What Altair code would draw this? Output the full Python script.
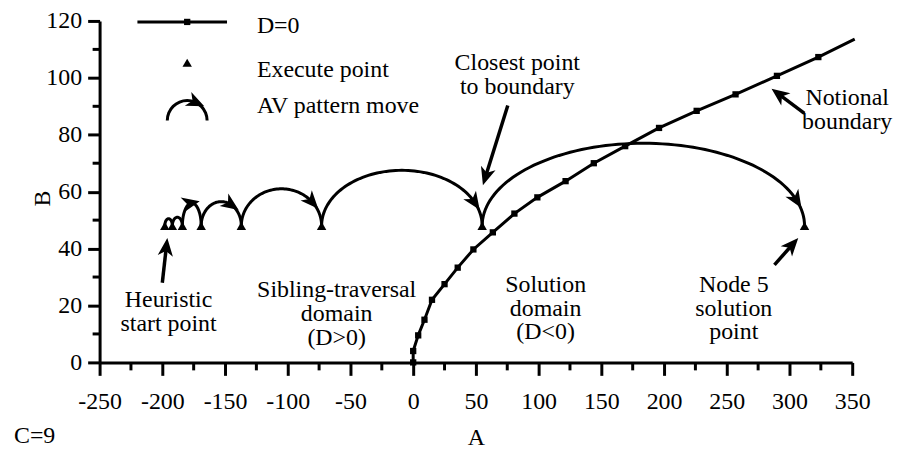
import math
import altair as alt
import pandas as pd

# ---------------- values ----------------
# D=0 notional boundary (A, B); the last point is the line end without a marker
d0_a = [0, 0, 4, 9, 15, 25, 35.5, 48, 63.5, 80.7, 99, 121.5, 144, 169, 196, 226, 257, 290, 323, 352]
d0_b = [0, 4, 9.5, 15, 22, 27.5, 33.3, 39.7, 45.7, 52.3, 58, 63.7, 70, 76, 82.4, 88.4, 94.2, 100.7, 107.3, 113.6]
d0_marked = 19

# execute points
exec_a = [-198, -192, -184, -169, -137, -73, 55, 312]
exec_b = [48, 48, 48, 48, 48, 48, 48, 48]

# AV pattern moves between consecutive execute points: peak height of each arc
arc_peak = [50.5, 51, 56, 56.5, 61, 67.5, 77]
arc_arrow = [None, None, 95, 60, 40, 25, 18]   # arrowhead position, degrees before the arc end

# annotations: text, anchor of the first line (A, B)
ann_text = ["Closest point\nto boundary", "Notional\nboundary", "Heuristic\nstart point",
            "Sibling-traversal\ndomain\n(D>0)", "Solution\ndomain\n(D<0)", "Node 5\nsolution\npoint"]
ann_text_a = [83, 346, -195, -61, 105.6, 255.6]
ann_text_b = [105.3, 93, 22, 25.5, 27.3, 27.3]

# annotation arrows: from (A, B) to tip (A, B)
arr_from_a = [75.4, 311.9, -200, 288]
arr_from_b = [90.3, 87.5, 28, 34.3]
arr_to_a = [55.6, 285.7, -196, 307]
arr_to_b = [62.3, 96.2, 43.7, 43.7]

x_ticks = list(range(-250, 351, 50))
x_minor = list(range(-225, 350, 50))
y_ticks = list(range(0, 121, 20))
y_minor = list(range(10, 120, 20))

# ---------------- layout ----------------
W, H = 756, 343
X_MIN, X_MAX, Y_MIN, Y_MAX = -250, 350, 0, 120
KX = W / (X_MAX - X_MIN)
KY = H / (Y_MAX - Y_MIN)
FONT = "Liberation Serif"
FS = 24
HEAD = "M0,-1L0.85,1L0,0.45L-0.85,1Z"

xs = alt.Scale(domain=[X_MIN, X_MAX], nice=False, zero=False)
ys = alt.Scale(domain=[Y_MIN, Y_MAX], nice=False, zero=False)
x_axis = alt.Axis(values=x_ticks, labelExpr="'' + datum.value", labelFont=FONT, labelFontSize=FS,
                  labelColor="black", labelPadding=14, labelFlush=False, labelOverlap=False,
                  tickSize=13, tickWidth=3, tickColor="black", domainWidth=3, domainColor="black",
                  grid=False, title="A", titleFont=FONT, titleFontSize=FS, titleFontWeight="normal",
                  titleColor="black", titleX=378, titleY=75, titleBaseline="middle")
y_axis = alt.Axis(values=y_ticks, labelFont=FONT, labelFontSize=FS, labelColor="black",
                  labelPadding=6, labelFlush=False, labelOverlap=False,
                  tickSize=12, tickWidth=3, tickColor="black", domainWidth=3, domainColor="black",
                  grid=False, title="B", titleFont=FONT, titleFontSize=FS, titleFontWeight="normal",
                  titleColor="black", titleX=-45, titleY=178)
X = alt.X("x:Q", scale=xs, axis=x_axis)
Y = alt.Y("y:Q", scale=ys, axis=y_axis)

# ---------------- tables ----------------
d0_df = pd.DataFrame({"x": d0_a, "y": d0_b, "k": list(range(len(d0_a)))})
mk_df = d0_df.iloc[:d0_marked]
ex_df = pd.DataFrame({"x": exec_a, "y": exec_b})

arc_rows, head_rows = [], []
for i in range(len(exec_a) - 1):
    x0, x1 = exec_a[i], exec_a[i + 1]
    base = (exec_b[i] + exec_b[i + 1]) / 2
    cx, a, b = (x0 + x1) / 2, (x1 - x0) / 2, arc_peak[i] - base
    n = 80
    for k in range(n + 1):
        phi = math.pi * k / n
        arc_rows.append({"x": cx - a * math.cos(phi), "y": base + b * math.sin(phi), "arc": i, "k": k})
    if arc_arrow[i] is not None:
        phi = math.pi - math.radians(arc_arrow[i])
        ang = math.degrees(math.atan2(a * math.sin(phi) * KX, b * math.cos(phi) * KY)) % 360
        head_rows.append({"x": cx - a * math.cos(phi), "y": base + b * math.sin(phi), "ang": ang})
arc_df = pd.DataFrame(arc_rows)

R = 9
seg_rows = []
for fa, fb, ta, tb in zip(arr_from_a, arr_from_b, arr_to_a, arr_to_b):
    sdx, sdy = (ta - fa) * KX, -(tb - fb) * KY
    ln = math.hypot(sdx, sdy)
    ux, uy = sdx / ln, sdy / ln
    hx, hy = ta - R * ux / KX, tb + R * uy / KY
    ang = math.degrees(math.atan2(sdx, -sdy)) % 360
    head_rows.append({"x": hx, "y": hy, "ang": ang})
    seg_rows.append({"x": fa, "y": fb, "x2": hx, "y2": hy})
head_df = pd.DataFrame(head_rows)
seg_df = pd.DataFrame(seg_rows)
txt_df = pd.DataFrame({"x": ann_text_a, "y": ann_text_b, "t": ann_text})

# ---------------- layers ----------------
minor_x = alt.Chart(pd.DataFrame({"x": x_minor})).mark_rule(color="black", strokeWidth=3).encode(
    x=X, y=alt.value(H), y2=alt.value(H + 8))
minor_y = alt.Chart(pd.DataFrame({"y": y_minor})).mark_rule(color="black", strokeWidth=3).encode(
    y=Y, x=alt.value(0), x2=alt.value(-7))

arcs = alt.Chart(arc_df).mark_line(color="black", strokeWidth=3).encode(
    x=X, y=Y, detail="arc:N", order="k:Q")
d0_line = alt.Chart(d0_df).mark_line(color="black", strokeWidth=3).encode(x=X, y=Y, order="k:Q")
d0_pts = alt.Chart(mk_df).mark_point(shape="square", filled=True, color="black", size=40, opacity=1).encode(x=X, y=Y)
ex_pts = alt.Chart(ex_df).mark_point(shape="triangle-up", filled=True, color="black", size=90, opacity=1).encode(x=X, y=Y)
heads = alt.Chart(head_df).mark_point(shape=HEAD, filled=True, color="black", size=R * R * 4, opacity=1).encode(
    x=X, y=Y, angle=alt.Angle("ang:Q", scale=None))
segs = alt.Chart(seg_df).mark_rule(color="black", strokeWidth=3.5).encode(x=X, y=Y, x2="x2:Q", y2="y2:Q")
texts = alt.Chart(txt_df).mark_text(font=FONT, fontSize=FS, color="black", lineBreak="\n",
                                     lineHeight=24, align="center", baseline="middle").encode(x=X, y=Y, text="t:N")

# legend (pixel positions inside the plot)
leg_line = alt.Chart(pd.DataFrame({"k": [0]})).mark_rule(color="black", strokeWidth=3).encode(
    x=alt.value(38), x2=alt.value(128), y=alt.value(1))
leg_sq = alt.Chart(pd.DataFrame({"k": [0]})).mark_point(shape="square", filled=True, color="black", size=40, opacity=1).encode(
    x=alt.value(88), y=alt.value(1))
leg_tri = alt.Chart(pd.DataFrame({"k": [0]})).mark_point(shape="triangle-up", filled=True, color="black", size=90, opacity=1).encode(
    x=alt.value(88), y=alt.value(42))
leg_arc = alt.Chart(pd.DataFrame({"k": [0]})).mark_arc(color="black", innerRadius=18.5, outerRadius=21.5,
                                                       theta=4.7124, theta2=7.8540).encode(
    x=alt.value(88), y=alt.value(100))
leg_head = alt.Chart(pd.DataFrame({"k": [0]})).mark_point(shape=HEAD, filled=True, color="black", size=R * R * 4,
                                                         opacity=1, angle=115).encode(
    x=alt.value(97), y=alt.value(82))
leg_txt = alt.Chart(pd.DataFrame({"t": ["D=0", "Execute point", "AV pattern move"],
                                  "py": [5, 49, 85]})).mark_text(
    font=FONT, fontSize=FS, color="black", align="left", baseline="middle").encode(
    x=alt.value(158), y=alt.Y("py:Q", scale=None, axis=None), text="t:N")
c_lbl = alt.Chart(pd.DataFrame({"t": ["C=9"]})).mark_text(
    font=FONT, fontSize=FS, color="black", align="left", baseline="middle").encode(
    x=alt.value(-86), y=alt.value(417), text="t:N")

chart = alt.layer(
    minor_x, minor_y, arcs, d0_line, d0_pts, ex_pts, segs, heads, texts,
    leg_line, leg_sq, leg_tri, leg_arc, leg_head, leg_txt, c_lbl
).properties(
    width=W, height=H, autosize="none",
    padding={"left": 92, "top": 12, "right": 46, "bottom": 88},
    background="white",
).configure_view(stroke=None)

chart.save("out.html", embed_options={"renderer": "svg", "actions": False})
